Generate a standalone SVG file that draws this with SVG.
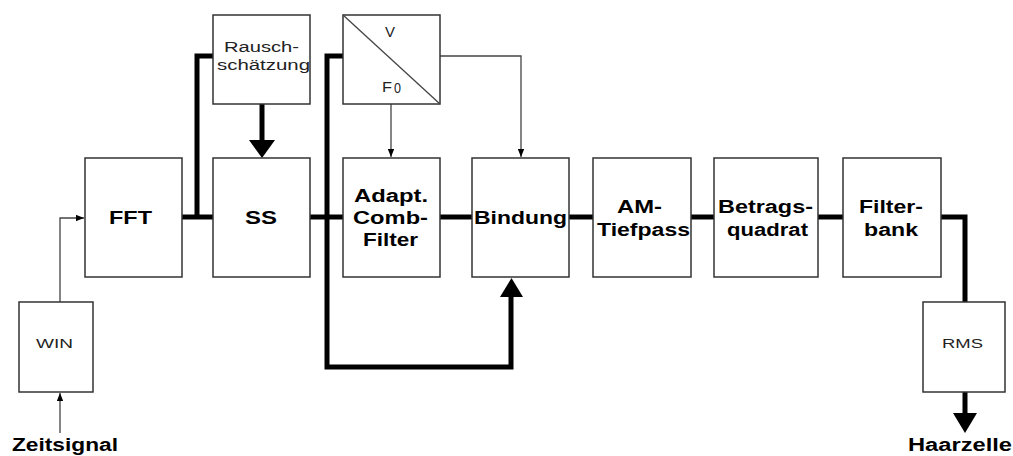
<svg xmlns="http://www.w3.org/2000/svg" width="1013" height="456" viewBox="0 0 1013 456">
<style>
.box{fill:#fff;stroke:#333;stroke-width:1.5}
.thick{fill:none;stroke:#000;stroke-width:5;stroke-linejoin:miter}
.thin{fill:none;stroke:#444;stroke-width:1.3}
.b{font-family:"Liberation Sans",Arial,sans-serif;font-weight:bold;font-size:18px;fill:#000}
.r{font-family:"Liberation Sans",Arial,sans-serif;font-size:14px;fill:#222}
.s{font-family:"Liberation Sans",Arial,sans-serif;font-size:12.5px;fill:#222}
</style>
<defs>
<marker id="sa" viewBox="0 0 10 8" refX="10" refY="4" markerWidth="8" markerHeight="6.5" markerUnits="userSpaceOnUse" orient="auto"><path d="M0,0L10,4L0,8z" fill="#000"/></marker>
</defs>
<g id="connectors">
<polyline class="thin" points="60,302 60,218 84,218" marker-end="url(#sa)"/>
<line class="thin" x1="60" y1="433" x2="60" y2="393" marker-end="url(#sa)"/>
<line class="thick" x1="182" y1="217" x2="213" y2="217"/>
<polyline class="thick" points="197,217 197,56 213,56"/>
<line class="thick" x1="262" y1="104" x2="262" y2="141"/>
<path d="M249,140L275,140L262,158z" fill="#000"/>
<line class="thick" x1="310" y1="217" x2="343" y2="217"/>
<polyline class="thick" points="343,56 327,56 327,367 511,367 511,296"/>
<path d="M500,297L523,297L511.5,278z" fill="#000"/>
<line class="thin" x1="391" y1="104" x2="391" y2="157" marker-end="url(#sa)"/>
<polyline class="thin" points="440,56 521,56 521,157" marker-end="url(#sa)"/>
<line class="thick" x1="440" y1="217" x2="472" y2="217"/>
<line class="thick" x1="569" y1="217" x2="593" y2="217"/>
<line class="thick" x1="691" y1="217" x2="714" y2="217"/>
<line class="thick" x1="818" y1="217" x2="843" y2="217"/>
<polyline class="thick" points="941,217 965,217 965,302"/>
<line class="thick" x1="965" y1="392" x2="965" y2="414"/>
<path d="M953,413L977,413L965,433z" fill="#000"/>
</g>
<g id="win"><rect class="box" x="19" y="302" width="74" height="90"/><text class="s" x="36" y="348" textLength="37" lengthAdjust="spacingAndGlyphs">WIN</text></g>
<g id="fft"><rect class="box" x="85" y="158" width="97" height="119"/><text class="b" x="109" y="224" textLength="43" lengthAdjust="spacingAndGlyphs">FFT</text></g>
<g id="ss"><rect class="box" x="213" y="158" width="97" height="119"/><text class="b" x="245" y="224" textLength="32" lengthAdjust="spacingAndGlyphs">SS</text></g>
<g id="rausch"><rect class="box" x="213" y="15" width="97" height="89"/><text class="r" x="224" y="52" textLength="75" lengthAdjust="spacingAndGlyphs">Rausch-</text><text class="r" x="217" y="70" textLength="93" lengthAdjust="spacingAndGlyphs">schätzung</text></g>
<g id="vf0"><rect class="box" x="343" y="15" width="97" height="89"/><line class="thin" x1="343" y1="15" x2="440" y2="104"/><text class="r" x="385" y="37" font-size="11" textLength="10" lengthAdjust="spacingAndGlyphs">V</text><text class="r" x="382" y="92" font-size="15" textLength="10" lengthAdjust="spacingAndGlyphs">F</text><text class="r" x="394" y="93" font-size="9" textLength="7" lengthAdjust="spacingAndGlyphs">0</text></g>
<g id="adapt"><rect class="box" x="343" y="158" width="97" height="119"/><text class="b" x="354" y="202" textLength="74" lengthAdjust="spacingAndGlyphs">Adapt.</text><text class="b" x="353" y="224" textLength="75" lengthAdjust="spacingAndGlyphs">Comb-</text><text class="b" x="363" y="246" textLength="55" lengthAdjust="spacingAndGlyphs">Filter</text></g>
<g id="bindung"><rect class="box" x="472" y="158" width="97" height="119"/><text class="b" x="474" y="224" textLength="93" lengthAdjust="spacingAndGlyphs">Bindung</text></g>
<g id="am"><rect class="box" x="593" y="158" width="98" height="119"/><text class="b" x="617" y="213" textLength="45" lengthAdjust="spacingAndGlyphs">AM-</text><text class="b" x="597" y="236" textLength="93" lengthAdjust="spacingAndGlyphs">Tiefpass</text></g>
<g id="betrag"><rect class="box" x="714" y="158" width="104" height="119"/><text class="b" x="718" y="213" textLength="95" lengthAdjust="spacingAndGlyphs">Betrags-</text><text class="b" x="727" y="236" textLength="81" lengthAdjust="spacingAndGlyphs">quadrat</text></g>
<g id="filterbank"><rect class="box" x="843" y="158" width="98" height="119"/><text class="b" x="859" y="213" textLength="64" lengthAdjust="spacingAndGlyphs">Filter-</text><text class="b" x="864" y="236" textLength="54" lengthAdjust="spacingAndGlyphs">bank</text></g>
<g id="rms"><rect class="box" x="923" y="302" width="82" height="90"/><text class="s" x="942" y="348" textLength="41" lengthAdjust="spacingAndGlyphs">RMS</text></g>
<g id="zeitsignal"><text class="b" x="12" y="451" textLength="106" lengthAdjust="spacingAndGlyphs">Zeitsignal</text></g>
<g id="haarzelle"><text class="b" x="908" y="451" textLength="104" lengthAdjust="spacingAndGlyphs">Haarzelle</text></g>
</svg>
